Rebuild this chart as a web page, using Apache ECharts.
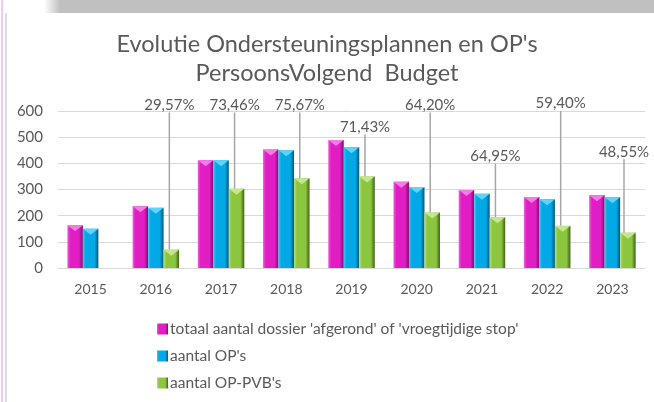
<!DOCTYPE html>
<html>
<head>
<meta charset="utf-8">
<script src="https://cdn.jsdelivr.net/npm/echarts@6/dist/echarts.min.js"></script>
<style>
  html, body { margin: 0; padding: 0; background: #fff; }
  #chart { width: 654px; height: 402px; }
</style>
</head>
<body>
<div id="chart"></div>
<script>
// data
const years = ['2015', '2016', '2017', '2018', '2019', '2020', '2021', '2022', '2023']
const totaalDossiers = [163, 236, 412, 453, 489, 330, 298, 271, 278]
const aantalOPs = [150, 230, 412, 450, 461, 310, 284, 263, 270]
const aantalPVB = [null, 70, 303, 343, 350, 212, 194, 161, 135]
const pctLabels = ['', '29,57%', '73,46%', '75,67%', '71,43%', '64,20%', '64,95%', '59,40%', '48,55%']
// height (in axis units) where each percentage label sits
const pctLevels = [0, 623, 623, 623, 540, 623, 428, 629, 444]

const seriesNames = [
  "totaal aantal dossier 'afgerond' of 'vroegtijdige stop'",
  "aantal OP's",
  "aantal OP-PVB's"
]

const FONT = 'Lato, "Open Sans", sans-serif'
const TXT = '#595959'
const BAR_W = 15.5

function bevel (light, mid, dark) {
  return {
    type: 'linear', x: 0, y: 0, x2: 1, y2: 0,
    colorStops: [
      { offset: 0, color: light },
      { offset: 0.18, color: mid },
      { offset: 0.75, color: mid },
      { offset: 1, color: dark }
    ]
  }
}

const colMagenta = bevel('#f060dc', '#e01ec3', '#7e0b6c')
const colBlue = bevel('#35c6f7', '#03a9e6', '#025676')
const colGreen = bevel('#b5e07a', '#8cc63e', '#3f5f19')
// lighter facet on top of each bar
const topMagenta = '#f77ae6'
const topBlue = '#5fd3fa'
const topGreen = '#c3e68e'

var myChart = echarts.init(document.getElementById('chart'))

function levelToPixel (v) {
  return myChart.convertToPixel({ yAxisIndex: 0 }, v)
}

function topFacet (data, color) {
  return {
    type: 'pictorialBar',
    data: data,
    barWidth: BAR_W,
    barGap: '0%',
    symbol: 'path://M0,0 L10,0 L5,4 Z',
    symbolSize: [BAR_W, 6],
    symbolPosition: 'end',
    symbolOffset: [0, 0],
    itemStyle: { color: color },
    silent: true,
    z: 3,
    tooltip: { show: false }
  }
}

const option = {
  backgroundColor: '#ffffff',
  animation: false,
  textStyle: { fontFamily: FONT },
  graphic: [
    // grey strip along the top, the window frame on the left
    { type: 'rect', shape: { x: 58, y: 0, width: 596, height: 13 }, style: { fill: '#c0c0c0' }, silent: true },
    { type: 'rect', shape: { x: 44, y: 0, width: 16, height: 13 },
      style: { fill: { type: 'linear', x: 0, y: 0, x2: 1, y2: 0, colorStops: [{ offset: 0, color: '#ffffff' }, { offset: 1, color: '#c0c0c0' }] } }, silent: true },
    { type: 'rect', shape: { x: 1, y: 0, width: 2, height: 402 }, style: { fill: '#f7c8f4' }, silent: true },
    { type: 'rect', shape: { x: 5, y: 13, width: 2, height: 389 }, style: { fill: '#dedede' }, silent: true }
  ],
  title: {
    text: "Evolutie Ondersteuningsplannen en OP's\nPersoonsVolgend  Budget",
    left: 'center',
    top: 25,
    textStyle: {
      fontFamily: FONT,
      fontWeight: 'normal',
      fontSize: 23.5,
      lineHeight: 29,
      color: TXT
    }
  },
  legend: {
    orient: 'vertical',
    left: 152,
    top: 316,
    itemWidth: 11,
    itemHeight: 11,
    itemGap: 11,
    icon: 'rect',
    textStyle: { fontFamily: FONT, fontSize: 15.5, color: TXT, padding: [0, 0, 0, -3] },
    data: seriesNames
  },
  grid: {
    left: 58,
    right: 9,
    top: 111,
    bottom: 134,
    containLabel: false
  },
  xAxis: {
    type: 'category',
    data: years,
    axisLine: { show: true, lineStyle: { color: '#d9d9d9' } },
    axisTick: { show: false },
    axisLabel: { color: TXT, fontFamily: FONT, fontSize: 14, margin: 14 }
  },
  yAxis: {
    type: 'value',
    min: 0,
    max: 600,
    interval: 100,
    axisLine: { show: false },
    axisTick: { show: false },
    axisLabel: { color: TXT, fontFamily: FONT, fontSize: 15, margin: 15 },
    splitLine: { lineStyle: { color: '#d9d9d9', width: 1 } }
  },
  series: [
    {
      name: seriesNames[0],
      type: 'bar',
      data: totaalDossiers,
      barWidth: BAR_W,
      barGap: '0%',
      itemStyle: { color: colMagenta }
    },
    {
      name: seriesNames[1],
      type: 'bar',
      data: aantalOPs,
      barWidth: BAR_W,
      barGap: '0%',
      itemStyle: { color: colBlue }
    },
    {
      name: seriesNames[2],
      type: 'bar',
      data: aantalPVB,
      barWidth: BAR_W,
      barGap: '0%',
      itemStyle: { color: colGreen },
      label: {
        show: true,
        position: 'top',
        color: TXT,
        fontFamily: FONT,
        fontSize: 15,
        formatter: function (p) { return pctLabels[p.dataIndex] }
      },
      labelLine: {
        show: true,
        lineStyle: { color: '#a6a6a6', width: 1.5 }
      },
      labelLayout: function (p) {
        const cx = p.rect.x + p.rect.width / 2
        return {
          x: Math.min(cx - 2, 624),
          y: levelToPixel(pctLevels[p.dataIndex]),
          align: 'center',
          verticalAlign: 'middle'
        }
      }
    },
    topFacet(totaalDossiers, topMagenta),
    topFacet(aantalOPs, topBlue),
    topFacet(aantalPVB, topGreen)
  ]
}

myChart.setOption(option)
</script>
</body>
</html>
